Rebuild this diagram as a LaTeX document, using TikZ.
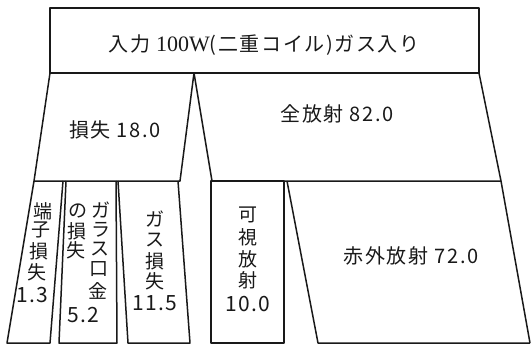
\documentclass[tikz,border=0pt]{standalone}
\usepackage{fontspec}
\newfontfamily\jp[LetterSpace=8]{Noto Sans CJK JP}
\newfontfamily\jpv{Noto Sans CJK JP}
\newfontfamily\jpn[LetterSpace=6]{Noto Sans CJK JP}
\newfontfamily\numserif{Liberation Serif}
\tikzset{
  edge/.style={line width=1.5pt, line join=round, draw=black!90},
  lbl/.style={inner sep=0pt, font=\fontsize{20pt}{20pt}\selectfont\jp, text=black!90},
  vlbl/.style={inner sep=0pt, font=\fontsize{19pt}{19pt}\selectfont\jpv, text=black!90},
  nlbl/.style={inner sep=0pt, font=\fontsize{21pt}{21pt}\selectfont\jpn, text=black!90},
}
\newcommand\vc[4]{\node[vlbl] (#1) at (#2,#3) {#4};}
\newcommand\vn[4]{\node[nlbl] (#1) at (#2,#3) {#4};}
\begin{document}
\begin{tikzpicture}[x=1pt,y=-1pt]
\useasboundingbox (0,0) rectangle (531,345);
% shapes
\draw[edge] (50,8) rectangle (479,73);
\draw[edge] (50,73) -- (34,181) -- (180,181) -- (194,73);
\draw[edge] (194,73) -- (212,181) -- (501,181);
\draw[edge] (479,73) -- (501,181) -- (530,343);
% bottom boxes
\draw[edge] (34,181) -- (7,343) -- (50,343) -- (63,181);
\draw[edge] (66,181) -- (59,343) -- (117,343) -- (116,181);
\draw[edge] (118,181) -- (128,343) -- (190,343) -- (178,181);
\draw[edge] (211,181) rectangle (284,343);
\draw[edge] (287,181) -- (318,343) -- (530,343);
% labels
\node[lbl] (input) at (264,45) {入力 {\fontsize{22pt}{22pt}\selectfont\numserif 100W}(二重コイル)ガス入り};
\node[lbl] (loss) at (115,130) {損失 18.0};
\node[lbl] (total) at (337,114) {全放射 82.0};
\node[lbl] (ir) at (411,256) {赤外放射 72.0};
% 端子損失
\vc{a1}{43}{211}{端}
\vc{a2}{41}{230}{子}
\vc{a3}{39}{251}{損}
\vc{a4}{37}{272}{失}
\vn{a5}{32}{295}{1.3}
% ガラス口金の損失
\vc{b1}{101}{210}{ガ}
\vc{b2}{101}{230}{ラ}
\vc{b3}{100}{249}{ス}
\vc{b4}{99}{269}{口}
\vc{b5}{98}{291}{金}
\vc{c1}{78}{211}{の}
\vc{c2}{77}{231}{損}
\vc{c3}{76}{250}{失}
\vn{c4}{83}{315}{5.2}
% ガス損失
\vc{d1}{155}{219}{ガ}
\vc{d2}{155}{240}{ス}
\vc{d3}{155}{261}{損}
\vc{d4}{155}{281}{失}
\vn{d5}{155}{303}{11.5}
% 可視放射
\vc{e1}{248}{215}{可}
\vc{e2}{248}{237}{視}
\vc{e3}{248}{259}{放}
\vc{e4}{248}{280}{射}
\vn{e5}{248}{304}{10.0}
\end{tikzpicture}
\end{document}
